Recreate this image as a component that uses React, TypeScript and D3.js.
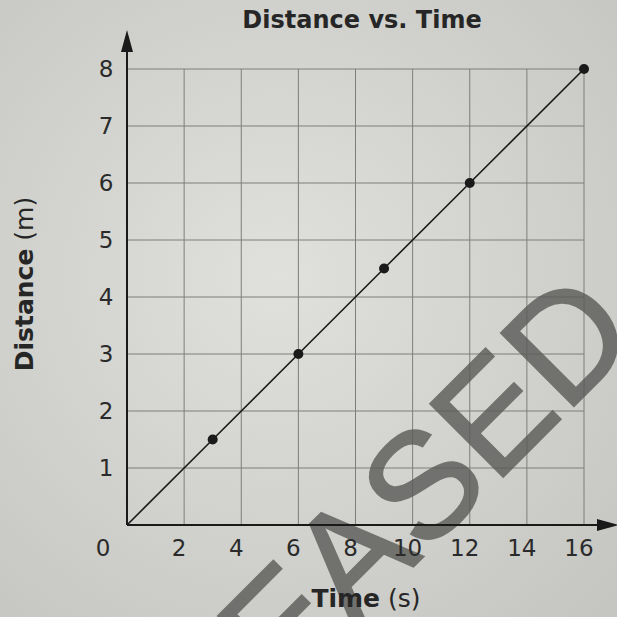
import React, { useEffect, useRef } from 'react';
import * as d3 from 'd3';

const timeValues = [3, 6, 9, 12, 16];
const distanceValues = [1.5, 3, 4.5, 6, 8];
const xTicks = [0, 2, 4, 6, 8, 10, 12, 14, 16];
const yTicks = [1, 2, 3, 4, 5, 6, 7, 8];

const App = () => {
  const svgRef = useRef<SVGSVGElement>(null);

  useEffect(() => {
    const width = 617;
    const height = 617;
    const svg = d3.select(svgRef.current).attr('width', width).attr('height', height);
    svg.selectAll('*').remove();

    const defs = svg.append('defs');
    const grad = defs.append('radialGradient').attr('id', 'paper').attr('cx', '45%').attr('cy', '45%').attr('r', '75%');
    grad.append('stop').attr('offset', '0%').attr('stop-color', '#e0e1dc');
    grad.append('stop').attr('offset', '100%').attr('stop-color', '#c5c6c1');

    svg.append('rect').attr('width', width).attr('height', height).attr('fill', 'url(#paper)');

    const x = d3.scaleLinear().domain([0, 16]).range([127, 584]);
    const y = d3.scaleLinear().domain([0, 8]).range([525, 69]);

    const font = "'DejaVu Sans', Verdana, sans-serif";

    // grid
    svg.append('g')
      .selectAll('line')
      .data(xTicks.filter((d) => d > 0))
      .enter()
      .append('line')
      .attr('x1', (d) => x(d))
      .attr('x2', (d) => x(d))
      .attr('y1', y(0))
      .attr('y2', y(8))
      .attr('stroke', '#7d7e7b')
      .attr('stroke-width', 1);

    svg.append('g')
      .selectAll('line')
      .data(yTicks)
      .enter()
      .append('line')
      .attr('x1', x(0))
      .attr('x2', x(16))
      .attr('y1', (d) => y(d))
      .attr('y2', (d) => y(d))
      .attr('stroke', '#7d7e7b')
      .attr('stroke-width', 1);

    // stamp behind the chart marks
    svg.append('text')
      .attr('transform', `translate(76,904) rotate(-45)`)
      .attr('text-anchor', 'start')
      .attr('font-family', "'Liberation Sans', Arial, sans-serif")
      .attr('font-size', 150)
      .attr('fill', '#5a5b58')
      .attr('stroke', '#5a5b58')
      .attr('stroke-width', 2)
      .attr('opacity', 0.8)
      .text('RELEASED');

    // axes with arrows
    svg.append('line')
      .attr('x1', x(0)).attr('y1', y(0))
      .attr('x2', x(0)).attr('y2', 48)
      .attr('stroke', '#1a1a1a').attr('stroke-width', 2);
    svg.append('path')
      .attr('d', `M${x(0)},30 L${x(0) - 6},52 L${x(0) + 6},52 Z`)
      .attr('fill', '#1a1a1a');

    svg.append('line')
      .attr('x1', x(0)).attr('y1', y(0))
      .attr('x2', 600).attr('y2', y(0))
      .attr('stroke', '#1a1a1a').attr('stroke-width', 2);
    svg.append('path')
      .attr('d', `M619,${y(0)} L597,${y(0) - 6} L597,${y(0) + 6} Z`)
      .attr('fill', '#1a1a1a');

    // tick labels
    svg.append('g')
      .selectAll('text')
      .data(yTicks)
      .enter()
      .append('text')
      .attr('x', 106)
      .attr('y', (d) => y(d))
      .attr('dy', '0.36em')
      .attr('text-anchor', 'middle')
      .attr('font-family', font)
      .attr('font-size', 23)
      .attr('fill', '#2a2a2a')
      .text((d) => d);

    svg.append('g')
      .selectAll('text')
      .data(xTicks)
      .enter()
      .append('text')
      .attr('x', (d) => (d === 0 ? 103 : x(d) - 5))
      .attr('y', 556)
      .attr('text-anchor', 'middle')
      .attr('font-family', font)
      .attr('font-size', 23)
      .attr('fill', '#2a2a2a')
      .text((d) => d);

    // data line and points
    const pts: [number, number][] = [[0, 0], ...timeValues.map((t, i) => [t, distanceValues[i]] as [number, number])];
    const line = d3.line<[number, number]>().x((d) => x(d[0])).y((d) => y(d[1]));
    svg.append('path')
      .attr('d', line(pts))
      .attr('fill', 'none')
      .attr('stroke', '#1a1a1a')
      .attr('stroke-width', 1.6);

    svg.append('g')
      .selectAll('circle')
      .data(timeValues)
      .enter()
      .append('circle')
      .attr('cx', (d) => x(d))
      .attr('cy', (d, i) => y(distanceValues[i]))
      .attr('r', 5)
      .attr('fill', '#1a1a1a');

    // titles
    svg.append('text')
      .attr('x', 362)
      .attr('y', 28)
      .attr('text-anchor', 'middle')
      .attr('font-family', font)
      .attr('font-weight', 'bold')
      .attr('font-size', 24)
      .attr('fill', '#262626')
      .text('Distance vs. Time');

    const xLabel = svg.append('text')
      .attr('x', 366)
      .attr('y', 607)
      .attr('text-anchor', 'middle')
      .attr('font-family', font)
      .attr('font-size', 25)
      .attr('fill', '#262626');
    xLabel.append('tspan').attr('font-weight', 'bold').text('Time');
    xLabel.append('tspan').text(' (s)');

    const yLabel = svg.append('text')
      .attr('transform', `translate(33,284) rotate(-90)`)
      .attr('text-anchor', 'middle')
      .attr('font-family', font)
      .attr('font-size', 25)
      .attr('fill', '#262626');
    yLabel.append('tspan').attr('font-weight', 'bold').text('Distance');
    yLabel.append('tspan').text(' (m)');
  }, []);

  return <svg ref={svgRef} style={{ position: 'absolute', left: 0, top: 0 }}></svg>;
};

export default App;
